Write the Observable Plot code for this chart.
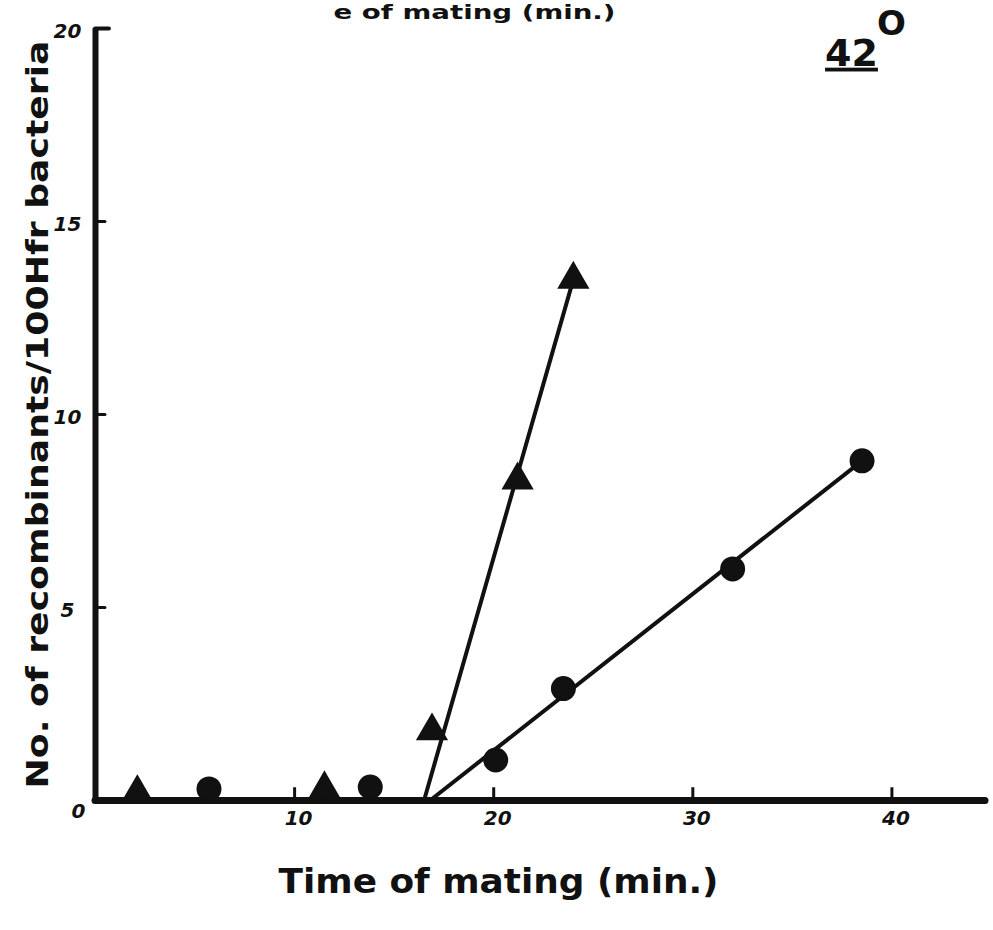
<!DOCTYPE html>
<html>
<head>
<meta charset="utf-8">
<script src="https://cdn.jsdelivr.net/npm/d3@7"></script>
<script src="https://cdn.jsdelivr.net/npm/@observablehq/plot@0.6"></script>
<style>
  html, body { margin: 0; padding: 0; background: #fff; }
  #chart { position: relative; width: 993px; height: 930px; overflow: hidden; background: #fff; }
</style>
</head>
<body>
<div id="chart"></div>
<script>
// ---- data ----
const triX = [2.1, 11.5, 16.9, 21.2, 24.0];
const triY = [0.2, 0.3, 1.8, 8.3, 13.5];
const circX = [5.7, 13.8, 20.1, 23.5, 32.0, 38.5];
const circY = [0.3, 0.35, 1.05, 2.9, 6.0, 8.8];
// hand-drawn fit lines (endpoints)
const triFitX = [16.5, 24.0];
const triFitY = [0, 13.5];
const circFitX = [16.8, 38.5];
const circFitY = [0, 8.8];
// axes
const xTicks = [10, 20, 30, 40];
const xTickLabels = ["10", "20", "30", "40"];
const yTicks = [5, 10, 15];
const yLabelValues = [5, 10, 15, 20];
const yTickLabels = ["5", "10", "15", "20"];
const xTitle = "Time of mating (min.)";
const yTitle = "No. of recombinants/100Hfr bacteria";
const tempLabel = "42";
const degreeMark = "O";
const topFragment = "e of mating (min.)";

const ink = "#111";
const zip = (xs, ys) => xs.map((x, i) => ({x, y: ys[i]}));
const tri = zip(triX, triY);
const circ = zip(circX, circY);
const font = "DejaVu Sans";
const mid = {textAnchor: "middle", lineAnchor: "middle"};
const tickFont = {fontSize: 20, fontStyle: "italic", fontWeight: "bold", fill: ink, ...mid};

const chart = Plot.plot({
  width: 993,
  height: 930,
  marginLeft: 95,
  marginRight: 8,
  marginTop: 28,
  marginBottom: 130,
  x: {domain: [0, 44.7], axis: null},
  y: {domain: [0, 20], axis: null},
  style: {background: "white", fontFamily: font, color: ink},
  marks: [
    // axes
    Plot.ruleX([0], {y1: 0, y2: 20, stroke: ink, strokeWidth: 6}),
    Plot.ruleY([0], {x1: 0, x2: 44.7, stroke: ink, strokeWidth: 7, strokeLinecap: "round"}),
    Plot.ruleY([20], {x1: 0, x2: 0.7, stroke: ink, strokeWidth: 4, strokeLinecap: "round"}),
    Plot.ruleY(yTicks, {x1: 0, x2: 0.5, stroke: ink, strokeWidth: 3, strokeLinecap: "round"}),
    Plot.ruleX(xTicks, {y1: 0, y2: 0.33, stroke: ink, strokeWidth: 3}),
    // fit lines
    Plot.line(zip(triFitX, triFitY), {x: "x", y: "y", stroke: ink, strokeWidth: 4}),
    Plot.line(zip(circFitX, circFitY), {x: "x", y: "y", stroke: ink, strokeWidth: 4}),
    // points
    Plot.dot(tri, {x: "x", y: "y", symbol: "triangle", r: 11, fill: ink, stroke: ink, strokeWidth: 1.5}),
    Plot.dot(circ, {x: "x", y: "y", symbol: "circle", r: 11.5, fill: ink, stroke: ink, strokeWidth: 2}),
    // tick labels
    Plot.text(xTicks, {x: d => d, y: 0, text: (d, i) => xTickLabels[i], dx: 4, dy: 18, ...tickFont}),
    Plot.text(["0"], {x: 0, y: 0, text: d => d, dx: -17, dy: 11, ...tickFont}),
    Plot.text(yLabelValues, {x: 0, y: d => d, text: (d, i) => yTickLabels[i], dx: -28, dy: 3, ...tickFont}),
    // titles
    Plot.text([yTitle], {frameAnchor: "left", text: d => d, rotate: -90, dx: -57, dy: 0,
      fontSize: 31, fontWeight: "bold", fill: ink, ...mid}),
    Plot.text([xTitle], {frameAnchor: "bottom", text: d => d, dx: -42, dy: 82,
      fontSize: 33, fontWeight: "bold", fill: ink, ...mid}),
    Plot.text([tempLabel], {frameAnchor: "top-right", text: d => d, dx: -134, dy: 25,
      fontSize: 38, fontWeight: "bold", fill: ink, ...mid}),
    Plot.text([degreeMark], {frameAnchor: "top-right", text: d => d, dx: -94, dy: -4,
      fontSize: 34, fontWeight: "bold", fill: ink, ...mid}),
    Plot.text([topFragment], {frameAnchor: "top", text: d => d, dx: -66, dy: -16,
      fontSize: 20, fontWeight: "bold", fill: ink, ...mid})
  ]
});

document.getElementById("chart").appendChild(chart);

const texts = Array.from(chart.querySelectorAll("text"));
const byContent = s => texts.find(t => t.textContent === s);
const setLen = (s, len) => {
  const t = byContent(s);
  if (t) { t.setAttribute("textLength", len); t.setAttribute("lengthAdjust", "spacingAndGlyphs"); }
};
setLen(yTitle, 748);
setLen(xTitle, 440);
setLen(topFragment, 282);
const temp = byContent(tempLabel);
if (temp) temp.setAttribute("text-decoration", "underline");
</script>
</body>
</html>
